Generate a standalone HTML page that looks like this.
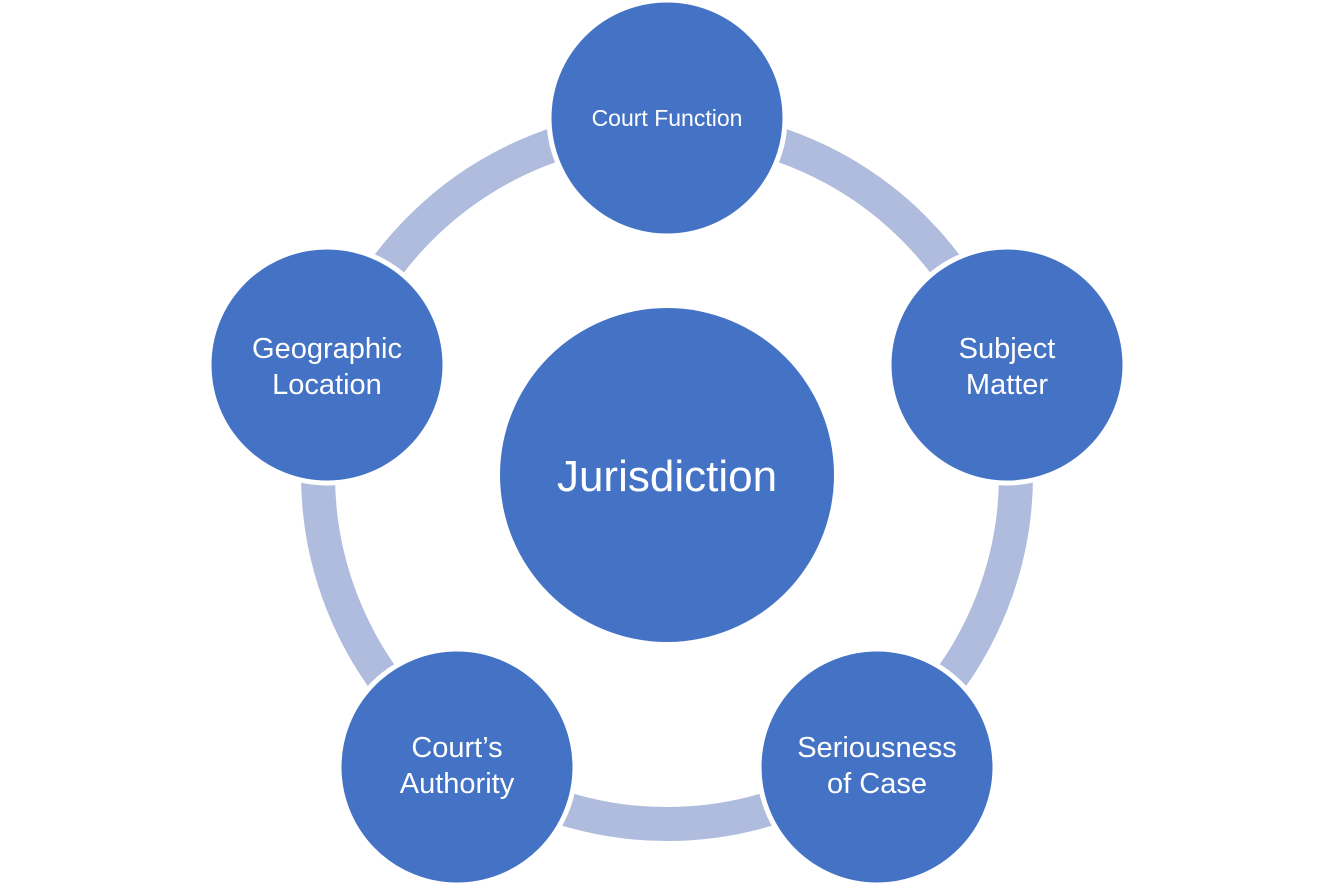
<!DOCTYPE html>
<html><head><meta charset="utf-8"><style>
html,body{margin:0;padding:0;background:#fff;}
svg{display:block;}
text{font-family:"Liberation Sans",sans-serif;fill:#fff;text-anchor:middle;}
</style></head><body>
<svg width="1334" height="890" viewBox="0 0 1334 890">
<circle cx="667" cy="475" r="349" fill="none" stroke="#afbcdd" stroke-width="34"/>
<circle cx="667" cy="475" r="167" fill="#4472c4"/>
<g fill="#4472c4" stroke="#fff" stroke-width="5">
<circle cx="667" cy="118" r="118"/>
<circle cx="1007" cy="365" r="118"/>
<circle cx="327" cy="365" r="118"/>
<circle cx="457" cy="767" r="118"/>
<circle cx="877" cy="767" r="118"/>
</g>
<text x="667" y="491" font-size="44">Jurisdiction</text>
<text x="667" y="126" font-size="23">Court Function</text>
<text x="1007" y="358" font-size="29">Subject</text>
<text x="1007" y="394" font-size="29">Matter</text>
<text x="327" y="358" font-size="29">Geographic</text>
<text x="327" y="394" font-size="29">Location</text>
<text x="457" y="757" font-size="29">Court’s</text>
<text x="457" y="793" font-size="29">Authority</text>
<text x="877" y="757" font-size="29">Seriousness</text>
<text x="877" y="793" font-size="29">of Case</text>
</svg>
</body></html>
